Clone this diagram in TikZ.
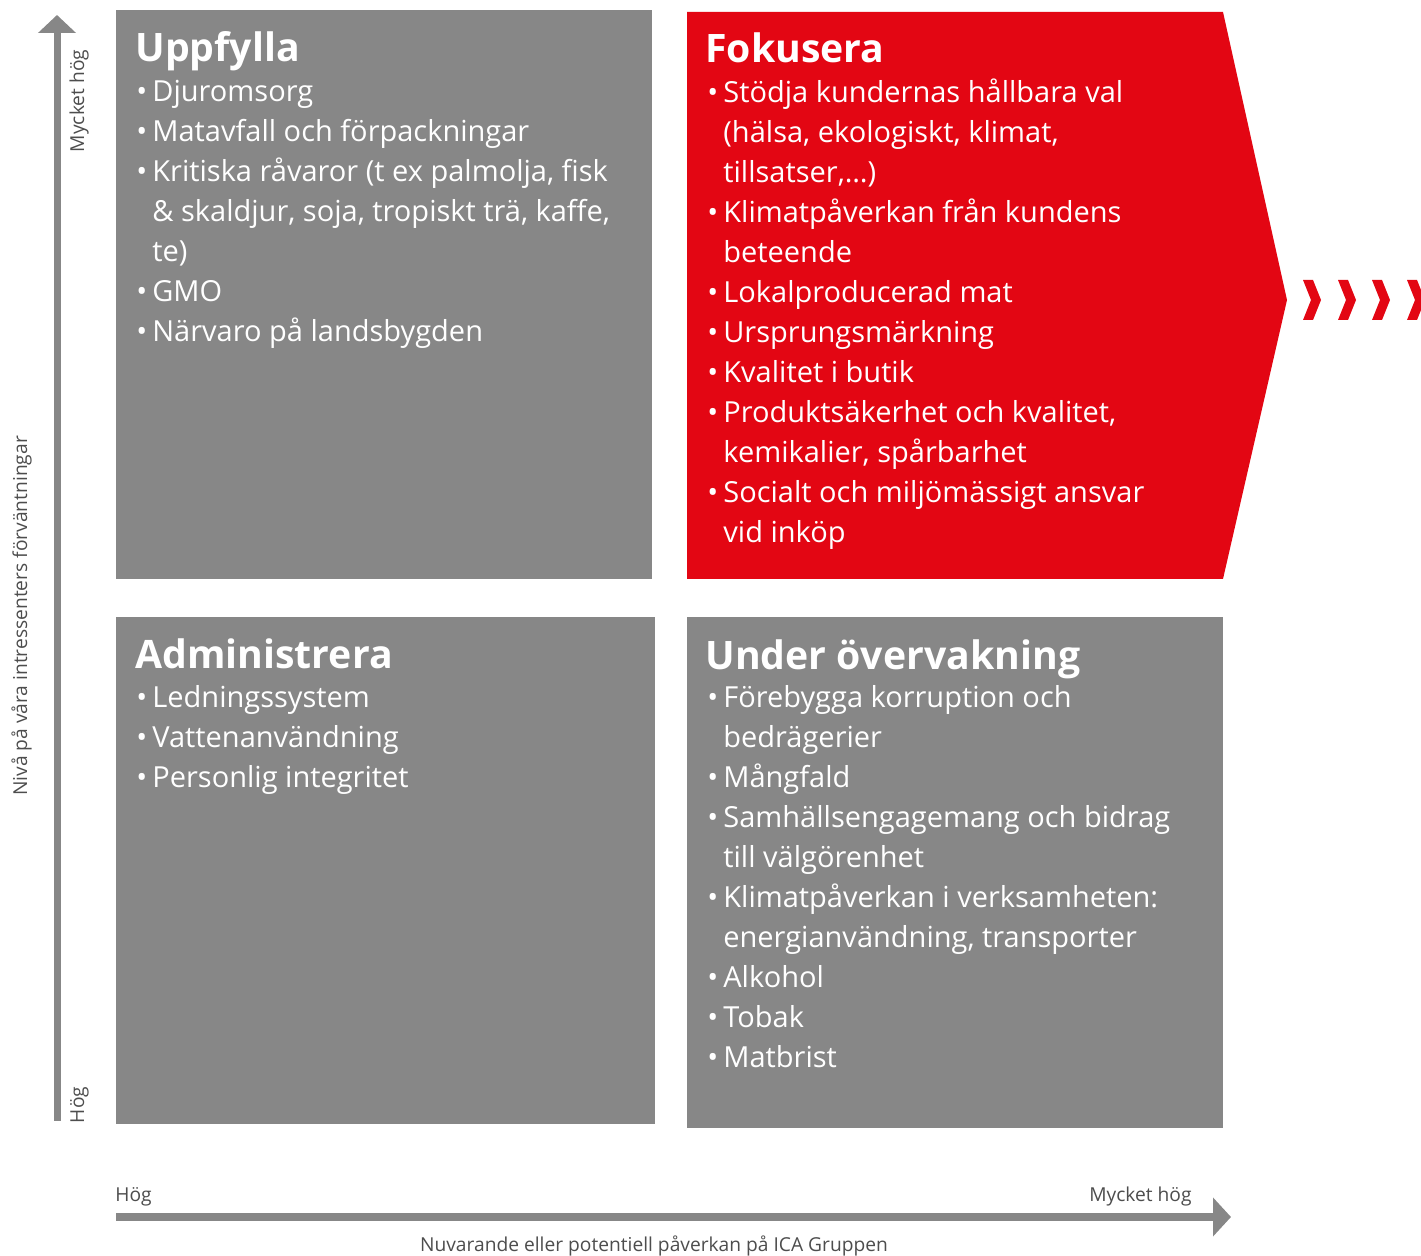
\documentclass[tikz,border=0pt]{standalone}
\usepackage{fontspec}
\setmainfont{Open Sans}
\usetikzlibrary{arrows.meta}

\definecolor{icared}{HTML}{E30613}
\definecolor{quadgray}{HTML}{878787}
\definecolor{axisgray}{HTML}{878787}
\definecolor{labelgray}{HTML}{4D4D4D}

\newcommand{\bul}{\makebox[8pt][l]{•}}
\newcommand{\ind}{\hspace*{8pt}}

\tikzset{
  quad/.style={fill=quadgray},
  redquad/.style={fill=icared},
  heading/.style={anchor=base west, inner sep=0pt, text=white, font=\fontsize{19.6}{24}\selectfont\bfseries},
  entry/.style={anchor=base west, inner sep=0pt, text=white, font=\fontsize{14.5}{20}\selectfont},
  axis/.style={draw=axisgray},
  axislabel/.style={inner sep=0pt, text=labelgray, font=\fontsize{9.6}{12}\selectfont},
}

\begin{document}
\begin{tikzpicture}[x=0.5pt, y=-0.5pt]
\useasboundingbox (0,0) rectangle (1421,1256);

% quadrants
\fill[quad] (116,10) rectangle (652,579);
\fill[redquad] (687,12) -- (1223,12) -- (1287,300) -- (1223,579) -- (687,579) -- cycle;
\fill[quad] (116,617) rectangle (655,1124);
\fill[quad] (687,617) rectangle (1223,1128);

% chevrons
\foreach \cx in {1303,1338,1372,1407}
  \fill[redquad] (\cx,280) -- ++(10,0) -- ++(8,20) -- ++(-8,20) -- ++(-10,0) -- ++(8,-20) -- cycle;

% upper left
\node[heading] (uppfylla) at (135,62) {Uppfylla};
\foreach \txt [count=\i] in {{\bul Djuromsorg},
    {\bul Matavfall och förpackningar},
    {\bul Kritiska råvaror (t ex palmolja, fisk},
    {\ind \& skaldjur, soja, tropiskt trä, kaffe,},
    {\ind te)},
    {\bul GMO},
    {\bul Närvaro på landsbygden}}
  \node[entry] (upp\i) at (136,{102+40*(\i-1)}) {\txt};

% upper right
\node[heading] (fokusera) at (705,63) {Fokusera};
\foreach \txt [count=\i] in {{\bul Stödja kundernas hållbara val},
    {\ind (hälsa, ekologiskt, klimat,},
    {\ind tillsatser,…)},
    {\bul Klimatpåverkan från kundens},
    {\ind beteende},
    {\bul Lokalproducerad mat},
    {\bul Ursprungsmärkning},
    {\bul Kvalitet i butik},
    {\bul Produktsäkerhet och kvalitet,},
    {\ind kemikalier, spårbarhet},
    {\bul Socialt och miljömässigt ansvar},
    {\ind vid inköp}}
  \node[entry] (fok\i) at (707,{103+40*(\i-1)}) {\txt};

% lower left
\node[heading] (administrera) at (135,669) {Administrera};
\foreach \txt [count=\i] in {{\bul Ledningssystem},
    {\bul Vattenanvändning},
    {\bul Personlig integritet}}
  \node[entry] (adm\i) at (136,{708+40*(\i-1)}) {\txt};

% lower right
\node[heading] (under) at (705,670) {Under övervakning};
\foreach \txt [count=\i] in {{\bul Förebygga korruption och},
    {\ind bedrägerier},
    {\bul Mångfald},
    {\bul Samhällsengagemang och bidrag},
    {\ind till välgörenhet},
    {\bul Klimatpåverkan i verksamheten:},
    {\ind energianvändning, transporter},
    {\bul Alkohol},
    {\bul Tobak},
    {\bul Matbrist}}
  \node[entry] (ovr\i) at (707,{708+40*(\i-1)}) {\txt};

% axes
\coordinate (yfoot) at (57,1121);
\coordinate (ytip) at (57,15);
\draw[axis, line width=3.5pt, -{Triangle[length=9pt, width=18.5pt]}] (yfoot) -- (ytip);
\coordinate (xfoot) at (116,1217);
\coordinate (xtip) at (1231,1217);
\draw[axis, line width=4pt, -{Triangle[length=9pt, width=19pt]}] (xfoot) -- (xtip);

\node[axislabel, rotate=90, anchor=base] (ymax) at (84,101) {Mycket hög};
\node[axislabel, rotate=90, anchor=base] (ymin) at (84,1105) {Hög};
\node[axislabel, rotate=90, anchor=base] (ytitle) at (27,616) {Nivå på våra intressenters förväntningar};
\node[axislabel, anchor=base west] (xmin) at (115,1202) {Hög};
\node[axislabel, anchor=base east] (xmax) at (1192,1202) {Mycket hög};
\node[axislabel, anchor=base] (xtitle) at (654,1252) {Nuvarande eller potentiell påverkan på ICA Gruppen};
\end{tikzpicture}
\end{document}
